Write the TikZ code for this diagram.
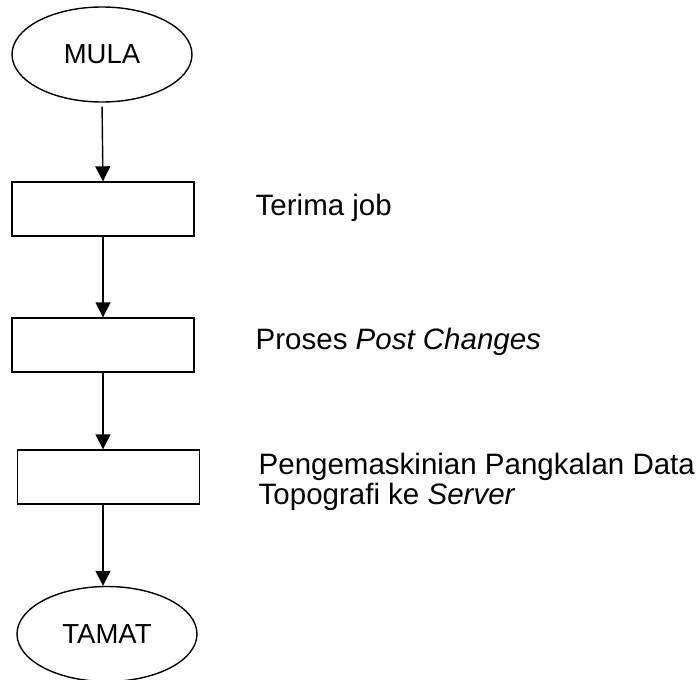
\documentclass[tikz,border=0pt]{standalone}
\usepackage{fontspec}
\setmainfont{Liberation Sans}
\usetikzlibrary{positioning, arrows.meta, shapes.geometric}

\begin{document}
\begin{tikzpicture}
    [x=0.5pt, y=-0.5pt, inner sep=0pt, line width=0.7pt,
     >={Triangle[width=7.5pt, length=7.5pt]},
     font=\fontsize{13.75}{15}\selectfont,
     terminal/.style={ellipse,draw,minimum width=90pt,minimum height=47.5pt},
     process/.style={rectangle,draw,minimum width=91pt,minimum height=27pt},
     note/.style={anchor=base west,align=left,font=\fontsize{14.75}{15}\selectfont}]
    \useasboundingbox (0,0) rectangle (698,680);

    \node (s0) at (102,54.5) [terminal] {MULA};
    \node (p1) at (103,209) [process] {};
    \node (p2) at (103,345) [process] {};
    \node (p3) at (108.5,477) [process] {};
    \node (s1) at (107,634) [terminal] {TAMAT};

    \node (t1) at (255,215) [note] {Terima job};
    \node (t2) at (255,350) [note] {Proses \textit{Post Changes}};
    \node (t3) at (258,504) [note] {Pengemaskinian Pangkalan Data\\Topografi ke \textit{Server}};

    \draw[->, shorten <=2pt] (s0.south) -- (p1.north);
    \draw[->] (p1) -- (p2);
    \draw[->] (p2.south) -- (p2.south |- p3.north);
    \draw[->] (p2.south |- p3.south) -- (p2.south |- s1.north);
\end{tikzpicture}
\end{document}
